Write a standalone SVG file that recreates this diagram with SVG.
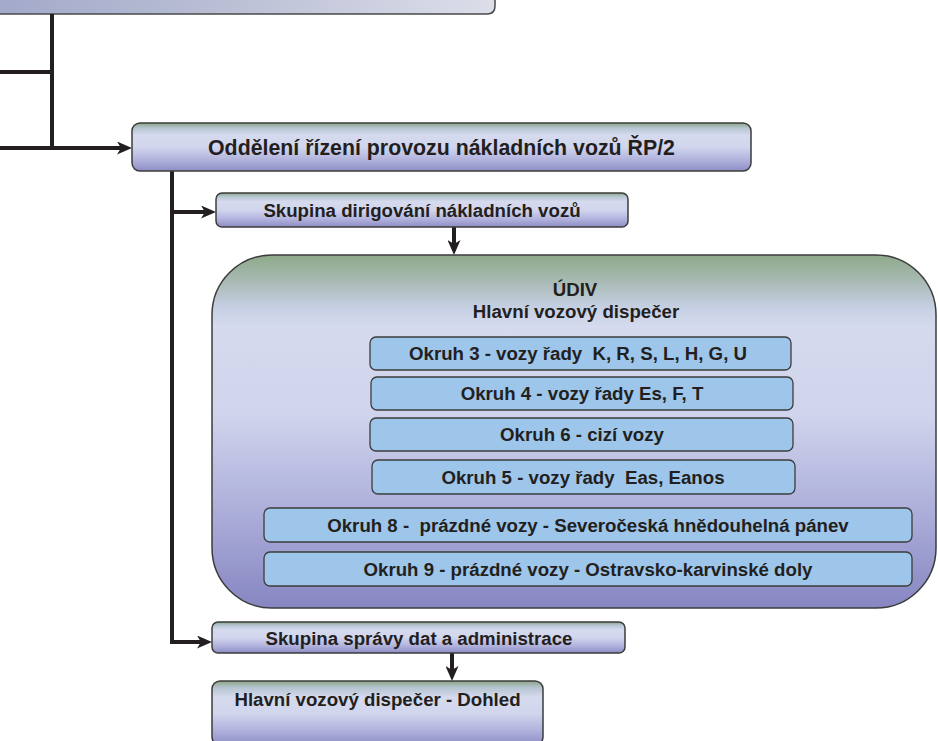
<svg xmlns="http://www.w3.org/2000/svg" width="938" height="741" viewBox="0 0 938 741">
<defs>
<linearGradient id="gBox" x1="0" y1="0" x2="0" y2="1">
<stop offset="0" stop-color="#8aa585"/>
<stop offset="0.1" stop-color="#b5c3cf"/>
<stop offset="0.25" stop-color="#d5daee"/>
<stop offset="0.5" stop-color="#d2d6ed"/>
<stop offset="0.75" stop-color="#b3b5de"/>
<stop offset="1" stop-color="#8d8dc5"/>
</linearGradient>
<linearGradient id="gBig" x1="0" y1="0" x2="0" y2="1">
<stop offset="0" stop-color="#8ea98a"/>
<stop offset="0.07" stop-color="#a7b9b1"/>
<stop offset="0.15" stop-color="#c6d0e4"/>
<stop offset="0.2" stop-color="#d5daee"/>
<stop offset="0.45" stop-color="#d0d4ec"/>
<stop offset="0.7" stop-color="#b0b2dc"/>
<stop offset="1" stop-color="#8786c2"/>
</linearGradient>
<linearGradient id="gTop" x1="0" y1="0" x2="1" y2="0">
<stop offset="0" stop-color="#a2a8c9"/>
<stop offset="0.5" stop-color="#bcc1d6"/>
<stop offset="1" stop-color="#dcdee9"/>
</linearGradient>
<marker id="arr" viewBox="0 0 15 13" refX="7" refY="6.5" markerWidth="15" markerHeight="13" markerUnits="userSpaceOnUse" orient="auto">
<path d="M0,0 L15,6.5 L0,13 L4,6.5 Z" fill="#231f20"/>
</marker>
<style>
.node{fill:url(#gBox);stroke:#3c3c3c;stroke-width:1.5}
.big{fill:url(#gBig);stroke:#3c3c3c;stroke-width:1.5}
.inner{fill:#9dc6ea;stroke:#3c3c3c;stroke-width:1.3}
.t{font-family:"Liberation Sans",Arial,sans-serif;font-weight:bold;font-size:18.67px;fill:#231f20;text-anchor:middle;white-space:pre}
.t1{font-size:21.33px}
.c{fill:none;stroke:#231f20;stroke-width:4}
</style>
</defs>
<rect width="938" height="741" fill="#ffffff"/>

<g id="top-node">
<path d="M-10,-20 H495 V6 Q495,14 487,14 H-10 Z" fill="url(#gTop)" stroke="#4a4a4a" stroke-width="1.5"/>
</g>

<g id="connectors">
<path class="c" d="M52,14 V148"/>
<path class="c" d="M0,72 H52"/>
<path class="c" d="M0,148 H124" marker-end="url(#arr)"/>
<path class="c" d="M172,171 V642 H204" marker-end="url(#arr)"/>
<path class="c" d="M172,212 H208" marker-end="url(#arr)"/>
<path class="c" d="M454,227 V247" marker-end="url(#arr)" stroke-width="3.5"/>
<path class="c" d="M452,653 V673" marker-end="url(#arr)"/>
</g>

<g id="n-oddeleni">
<rect class="node" x="132" y="123" width="619" height="48" rx="8"/>
<text class="t t1" x="441.5" y="155">Oddělení řízení provozu nákladních vozů ŘP/2</text>
</g>

<g id="n-dirigovani">
<rect class="node" x="216" y="193" width="412" height="34" rx="6"/>
<text class="t" x="422" y="216.5">Skupina dirigování nákladních vozů</text>
</g>

<g id="n-udiv">
<rect class="big" x="212" y="255" width="724" height="353" rx="60"/>
<text class="t" x="575" y="296">ÚDIV</text>
<text class="t" x="576" y="318">Hlavní vozový dispečer</text>
</g>

<g id="n-okruh3">
<rect class="inner" x="370" y="337" width="421" height="33" rx="6"/>
<text class="t" x="578" y="360">Okruh 3 - vozy řady  K, R, S, L, H, G, U</text>
</g>
<g id="n-okruh4">
<rect class="inner" x="371" y="377" width="422" height="33" rx="6"/>
<text class="t" x="582" y="400">Okruh 4 - vozy řady Es, F, T</text>
</g>
<g id="n-okruh6">
<rect class="inner" x="370" y="418" width="423" height="33" rx="6"/>
<text class="t" x="582" y="441">Okruh 6 - cizí vozy</text>
</g>
<g id="n-okruh5">
<rect class="inner" x="372" y="460" width="423" height="34" rx="6"/>
<text class="t" x="583" y="483.5">Okruh 5 - vozy řady  Eas, Eanos</text>
</g>
<g id="n-okruh8">
<rect class="inner" x="264" y="508" width="648" height="34" rx="6"/>
<text class="t" x="588" y="531.5">Okruh 8 -  prázdné vozy - Severočeská hnědouhelná pánev</text>
</g>
<g id="n-okruh9">
<rect class="inner" x="264" y="552" width="648" height="34" rx="6"/>
<text class="t" x="588" y="575.5">Okruh 9 - prázdné vozy - Ostravsko-karvinské doly</text>
</g>

<g id="n-spravy">
<rect class="node" x="212" y="622" width="413" height="31" rx="6"/>
<text class="t" x="419" y="645">Skupina správy dat a administrace</text>
</g>

<g id="n-dohled">
<rect class="node" x="212" y="681" width="331" height="64" rx="8"/>
<text class="t" x="377.5" y="706">Hlavní vozový dispečer - Dohled</text>
</g>
</svg>
